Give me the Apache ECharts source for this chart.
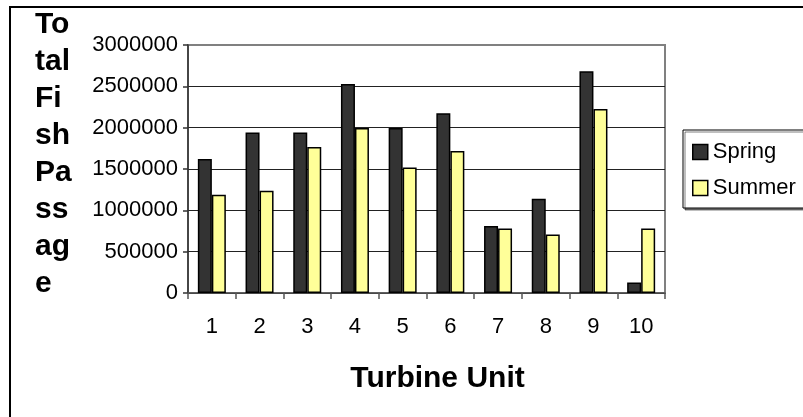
<!DOCTYPE html>
<html>
<head>
<meta charset="utf-8">
<script src="https://cdn.jsdelivr.net/npm/echarts@6/dist/echarts.min.js"></script>
<style>
html,body{margin:0;padding:0;background:#fff;}
#chart{width:803px;height:417px;}
</style>
</head>
<body>
<div id="chart"></div>
<script>
var categories = ['1','2','3','4','5','6','7','8','9','10'];
var springValues = [1620000, 1943000, 1943000, 2528000, 1995000, 2173000, 810000, 1141000, 2681000, 128000];
var summerValues = [1189000, 1237000, 1766000, 1995000, 1519000, 1718000, 781000, 709000, 2226000, 781000];
var seriesNames = ['Spring', 'Summer'];
var yAxisTitle = 'To\ntal\nFi\nsh\nPa\nss\nag\ne';
var xAxisTitle = 'Turbine Unit';

var FONT = 'Arial, "Liberation Sans", sans-serif';
var chart = echarts.init(document.getElementById('chart'), null, {renderer: 'canvas'});
chart.setOption({
  animation: false,
  backgroundColor: '#ffffff',
  textStyle: {fontFamily: FONT},
  graphic: [{
    type: 'rect', z: -10, silent: true,
    shape: {x: 10, y: 7, width: 1000, height: 600},
    style: {fill: 'none', stroke: '#000', lineWidth: 2}
  }],
  title: {
    text: yAxisTitle, left: 35, top: 6, padding: 0,
    textStyle: {fontSize: 30, fontWeight: 'bold', color: '#000', lineHeight: 37, fontFamily: FONT}
  },
  grid: {left: 188, right: 138, top: 45, bottom: 124, outerBoundsMode: 'none', containLabel: false,
         show: true, borderColor: '#808080', borderWidth: 2, backgroundColor: 'transparent'},
  legend: {
    orient: 'vertical', left: 683, top: 130,
    padding: [11, 30, 9, 9], itemGap: 14, itemWidth: 15, itemHeight: 15,
    backgroundColor: '#fff', borderColor: '#000', borderWidth: 1,
    shadowColor: 'rgba(0,0,0,0.5)', shadowOffsetX: 2, shadowOffsetY: 2,
    textStyle: {fontSize: 22, color: '#000', fontFamily: FONT, padding: [0,0,0,0]},
    data: [
      {name: seriesNames[0], icon: 'rect', itemStyle: {color: '#333333', borderColor: '#000', borderWidth: 1.5}},
      {name: seriesNames[1], icon: 'rect', itemStyle: {color: '#FFFF99', borderColor: '#000', borderWidth: 1.5}}
    ]
  },
  xAxis: {
    type: 'category', data: categories,
    name: xAxisTitle, nameLocation: 'middle', nameGap: 71,
    nameTextStyle: {fontSize: 30, fontWeight: 'bold', color: '#000', fontFamily: FONT, padding: [0,0,0,22]},
    axisLine: {lineStyle: {color: '#555', width: 1.5}},
    axisTick: {show: true, length: 6, lineStyle: {color: '#555', width: 1.5}},
    axisLabel: {fontSize: 22, color: '#000', margin: 23, fontFamily: FONT},
    splitLine: {show: false}
  },
  yAxis: {
    type: 'value', min: 0, max: 3000000, interval: 500000,
    axisLine: {show: true, lineStyle: {color: '#333', width: 1.5}},
    axisTick: {show: true, length: 5, lineStyle: {color: '#333', width: 1.5}},
    axisLabel: {fontSize: 22, color: '#000', margin: 10, fontFamily: FONT, formatter: function (v) { return String(v); }},
    splitLine: {show: true, lineStyle: {color: ['#222','#222','#222','#222','#222','#222','#808080'], width: 1.2}}
  },
  series: [
    {name: seriesNames[0], type: 'bar', data: springValues, barWidth: 14, barGap: '0%',
     itemStyle: {color: '#333333', borderColor: '#000', borderWidth: 1.5}},
    {name: seriesNames[1], type: 'bar', data: summerValues, barWidth: 14,
     itemStyle: {color: '#FFFF99', borderColor: '#000', borderWidth: 1.5}}
  ]
});
</script>
</body>
</html>
